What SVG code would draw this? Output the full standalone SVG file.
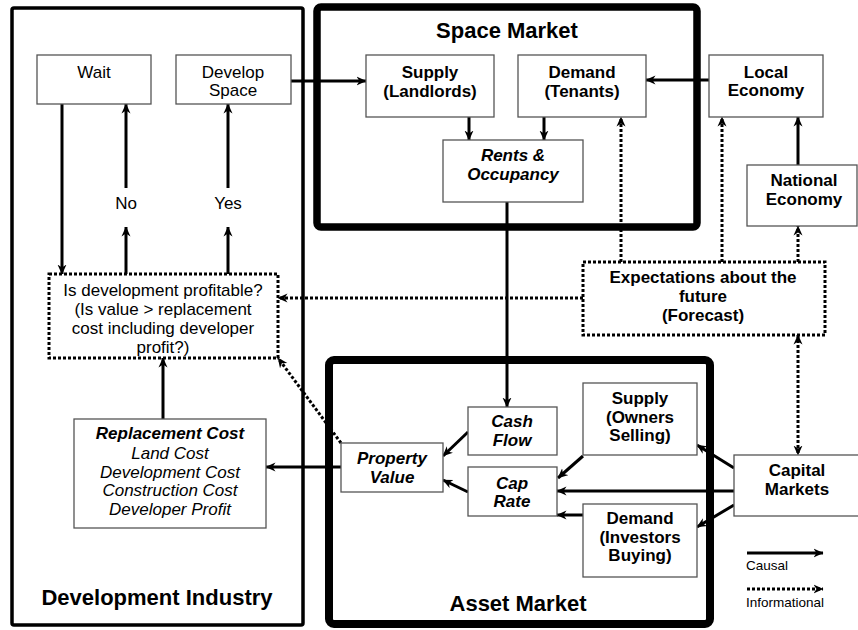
<svg xmlns="http://www.w3.org/2000/svg" width="858" height="630" viewBox="0 0 858 630">
<style>
text{font-family:"Liberation Sans",Arial,sans-serif;fill:#000;text-anchor:middle}
.n{font-size:17px}
.b{font-size:17px;font-weight:bold}
.bi{font-size:17px;font-weight:bold;font-style:italic}
.i{font-size:17px;font-style:italic}
.t{font-size:22px;font-weight:bold}
.lg{font-size:13.5px;text-anchor:start}
.box{fill:#fff;stroke:#555;stroke-width:1.3}
.dbox{fill:#fff;stroke:#000;stroke-width:3;stroke-dasharray:3 2}
.c{fill:none;stroke:#000;stroke-width:3;marker-end:url(#ah)}
.d{fill:none;stroke:#000;stroke-width:3;stroke-dasharray:3 2;marker-end:url(#ah)}
</style>
<defs>
<marker id="ah" viewBox="0 0 10 10" refX="9.5" refY="5" markerWidth="10" markerHeight="10" markerUnits="userSpaceOnUse" orient="auto-start-reverse">
<path d="M0,0.5 L10,5 L0,9.5 L3,5 z" fill="#000"/>
</marker>
</defs>
<rect width="858" height="630" fill="#fff"/>

<g id="development-industry">
<rect x="12" y="8" width="291" height="617" fill="none" stroke="#000" stroke-width="3.5" rx="2"/>
<text class="t" x="157" y="605">Development Industry</text>
</g>
<g id="space-market">
<rect x="317" y="7" width="380" height="220" fill="none" stroke="#000" stroke-width="7.5" rx="4"/>
<text class="t" x="507" y="38">Space Market</text>
</g>
<g id="asset-market">
<rect x="329" y="360" width="381" height="264" fill="none" stroke="#000" stroke-width="8" rx="5"/>
<text class="t" x="518" y="611">Asset Market</text>
</g>

<g id="connectors">
<path class="c" d="M291,81 H366"/>
<path class="c" d="M469,117 V140"/>
<path class="c" d="M544,117 V140"/>
<path class="c" d="M709,80 H646"/>
<path class="c" d="M798,165 V117"/>
<path class="c" d="M507,202 V407"/>
<path class="c" d="M62,104 V274"/>
<path class="c" d="M126,274 V227"/>
<path class="c" d="M126,188 V104"/>
<path class="c" d="M228,274 V227"/>
<path class="c" d="M228,188 V104"/>
<path class="c" d="M163,419 V358"/>
<path class="c" d="M341,467 H266"/>
<path class="c" d="M468,432 L443,456"/>
<path class="c" d="M468,492 L443,480"/>
<path class="c" d="M583,456 L558,478"/>
<path class="c" d="M583,515 H557"/>
<path class="c" d="M734,468 L697,445"/>
<path class="c" d="M734,491 H557"/>
<path class="c" d="M734,505 L697,527"/>
<path class="d" d="M621,262 V117"/>
<path class="d" d="M722,262 V117"/>
<path class="d" d="M798,262 V226"/>
<path class="d" d="M583,298 H278"/>
<path class="d" d="M341,443 L278,358"/>
<path class="d" d="M798,335 V455" marker-start="url(#ah)"/>
</g>

<g id="wait"><rect class="box" x="37" y="55" width="114" height="49"/><text class="n" x="94" y="78">Wait</text></g>
<g id="develop-space"><rect class="box" x="176" y="55" width="115" height="49"/><text class="n" x="233" y="78">Develop</text><text class="n" x="233" y="96">Space</text></g>
<g id="supply-landlords"><rect class="box" x="366" y="55" width="128" height="62"/><text class="b" x="430" y="78">Supply</text><text class="b" x="430" y="97">(Landlords)</text></g>
<g id="demand-tenants"><rect class="box" x="518" y="55" width="128" height="62"/><text class="b" x="582" y="78">Demand</text><text class="b" x="582" y="97">(Tenants)</text></g>
<g id="rents-occupancy"><rect class="box" x="443" y="140" width="140" height="62"/><text class="bi" x="513" y="161">Rents &amp;</text><text class="bi" x="513" y="180">Occupancy</text></g>
<g id="local-economy"><rect class="box" x="709" y="55" width="114" height="62"/><text class="b" x="766" y="78">Local</text><text class="b" x="766" y="96">Economy</text></g>
<g id="national-economy"><rect class="box" x="747" y="165" width="110" height="61"/><text class="b" x="804" y="186">National</text><text class="b" x="804" y="205">Economy</text></g>
<g id="no-label"><text class="n" x="126" y="209">No</text></g>
<g id="yes-label"><text class="n" x="228" y="209">Yes</text></g>
<g id="is-profitable"><rect class="dbox" x="49" y="274" width="229" height="84"/>
<text class="n" x="163" y="296">Is development profitable?</text>
<text class="n" x="163" y="315">(Is value &gt; replacement</text>
<text class="n" x="163" y="334">cost including developer</text>
<text class="n" x="163" y="353">profit?)</text></g>
<g id="expectations"><rect class="dbox" x="583" y="262" width="242" height="73"/>
<text class="b" x="703" y="283">Expectations about the</text>
<text class="b" x="703" y="302">future</text>
<text class="b" x="703" y="321">(Forecast)</text></g>
<g id="replacement-cost"><rect class="box" x="74" y="419" width="192" height="109"/>
<text class="bi" x="170" y="439">Replacement Cost</text>
<text class="i" x="170" y="459">Land Cost</text>
<text class="i" x="170" y="478">Development Cost</text>
<text class="i" x="170" y="496">Construction Cost</text>
<text class="i" x="170" y="515">Developer Profit</text></g>
<g id="property-value"><rect class="box" x="341" y="443" width="102" height="49"/><text class="bi" x="392" y="464">Property</text><text class="bi" x="392" y="483">Value</text></g>
<g id="cash-flow"><rect class="box" x="468" y="407" width="89" height="48"/><text class="bi" x="512" y="427">Cash</text><text class="bi" x="512" y="446">Flow</text></g>
<g id="cap-rate"><rect class="box" x="468" y="467" width="89" height="49"/><text class="bi" x="512" y="489">Cap</text><text class="bi" x="512" y="507">Rate</text></g>
<g id="supply-owners"><rect class="box" x="583" y="383" width="114" height="72"/><text class="b" x="640" y="404">Supply</text><text class="b" x="640" y="423">(Owners</text><text class="b" x="640" y="441">Selling)</text></g>
<g id="demand-investors"><rect class="box" x="583" y="504" width="114" height="73"/><text class="b" x="640" y="524">Demand</text><text class="b" x="640" y="543">(Investors</text><text class="b" x="640" y="561">Buying)</text></g>
<g id="capital-markets"><rect class="box" x="734" y="455" width="126" height="61"/><text class="b" x="797" y="476">Capital</text><text class="b" x="797" y="495">Markets</text></g>

<g id="legend">
<path class="c" d="M747,553 H823"/>
<text class="lg" x="746" y="570">Causal</text>
<path class="d" d="M747,589 H823"/>
<text class="lg" x="746" y="607">Informational</text>
</g>
</svg>
